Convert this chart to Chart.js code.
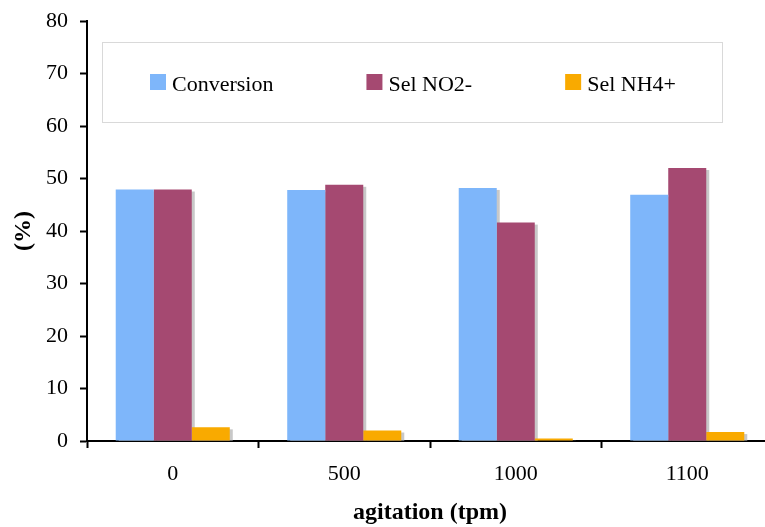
<!DOCTYPE html>
<html>
<head>
<meta charset="utf-8">
<script src="https://cdn.jsdelivr.net/npm/chart.js@4.4.1/dist/chart.umd.min.js"></script>
<style>
  html, body { margin: 0; padding: 0; background: #fff; overflow: hidden; }
</style>
</head>
<body>
<canvas id="agitacion" width="775" height="527"></canvas>
<script>
const categorias = ['0', '500', '1000', '1100']
const conversion = [47.9, 47.8, 48.2, 46.9]
const selNO2 = [47.9, 48.8, 41.6, 52.0]
const selNH4 = [2.6, 2.0, 0.5, 1.7]
const ticksY = [0, 10, 20, 30, 40, 50, 60, 70, 80]

const serif = "'Liberation Serif', 'Times New Roman', serif"

// sombra gris detras de cada barra
const sombra = {
    id: 'sombra',
    beforeDatasetsDraw(chart) {
        const ctx = chart.ctx
        ctx.save()
        ctx.fillStyle = '#c8c8c8'
        chart.data.datasets.forEach((ds, i) => {
            chart.getDatasetMeta(i).data.forEach(bar => {
                const { x, y, base, width } = bar.getProps(['x', 'y', 'base', 'width'], true)
                const alto = base - y - 2
                if (alto > 0) ctx.fillRect(x - width / 2 + 3, y + 2, width, alto)
            })
        })
        ctx.restore()
    }
}

// leyenda en recuadro dentro del area
const leyenda = {
    id: 'leyenda',
    afterDraw(chart) {
        const ctx = chart.ctx
        const caja = { x: 102.5, y: 42.5, w: 620, h: 80 }
        ctx.save()
        ctx.fillStyle = '#fff'
        ctx.fillRect(caja.x, caja.y, caja.w, caja.h)
        ctx.strokeStyle = '#d9d9d9'
        ctx.lineWidth = 1
        ctx.strokeRect(caja.x, caja.y, caja.w, caja.h)

        ctx.font = '22px ' + serif
        ctx.textBaseline = 'alphabetic'
        ctx.textAlign = 'left'
        let x = 150
        chart.data.datasets.forEach(ds => {
            ctx.fillStyle = ds.backgroundColor
            ctx.fillRect(x, 74, 16, 16)
            ctx.fillStyle = '#000'
            ctx.fillText(ds.label, x + 22, 91)
            x += 22 + ctx.measureText(ds.label).width + 93
        })
        ctx.restore()
    }
}

const ctx = document.getElementById('agitacion').getContext('2d')
const grafica = new Chart(ctx, {
    type: 'bar',
    data: {
        labels: categorias,
        datasets: [{
            label: 'Conversion',
            data: conversion,
            backgroundColor: '#7eb6fa'
        }, {
            label: 'Sel NO2-',
            data: selNO2,
            backgroundColor: '#a54971'
        }, {
            label: 'Sel NH4+',
            data: selNH4,
            backgroundColor: '#f9aa00'
        }]
    },
    options: {
        responsive: false,
        animation: false,
        devicePixelRatio: 1,
        layout: {
            padding: { top: 21, right: 2, bottom: 0, left: 0 }
        },
        datasets: {
            bar: {
                categoryPercentage: 0.665,
                barPercentage: 1.0,
                borderWidth: 0
            }
        },
        scales: {
            x: {
                grid: {
                    offset: true,
                    drawOnChartArea: false,
                    drawTicks: true,
                    tickLength: 7,
                    tickWidth: 2,
                    tickColor: '#000'
                },
                border: { color: '#000', width: 2 },
                ticks: {
                    color: '#000',
                    padding: 13,
                    font: { family: serif, size: 22 }
                },
                title: {
                    display: true,
                    text: 'agitation (tpm)',
                    color: '#000',
                    padding: { top: 0, bottom: 2 },
                    font: { family: serif, size: 24, weight: 'bold', lineHeight: 1 }
                },
                afterFit(s) {
                    s.height = 86
                    s.paddingLeft = 0
                    s.paddingRight = 0
                }
            },
            y: {
                min: 0,
                max: 80,
                afterBuildTicks(s) {
                    s.ticks = ticksY.map(v => ({ value: v }))
                },
                grid: {
                    drawOnChartArea: false,
                    drawTicks: true,
                    tickLength: 7,
                    tickWidth: 2,
                    tickColor: '#000'
                },
                border: { color: '#000', width: 2 },
                ticks: {
                    color: '#000',
                    padding: 12,
                    font: { family: serif, size: 22 }
                },
                title: {
                    display: true,
                    text: '(%)',
                    color: '#000',
                    padding: { top: 12, bottom: 0 },
                    font: { family: serif, size: 24, weight: 'bold', lineHeight: 1 }
                },
                afterFit(s) {
                    s.width = 87
                    s.paddingTop = 0
                    s.paddingBottom = 0
                }
            }
        },
        plugins: {
            legend: { display: false },
            tooltip: { enabled: false }
        }
    },
    plugins: [sombra, leyenda]
})
</script>
</body>
</html>
